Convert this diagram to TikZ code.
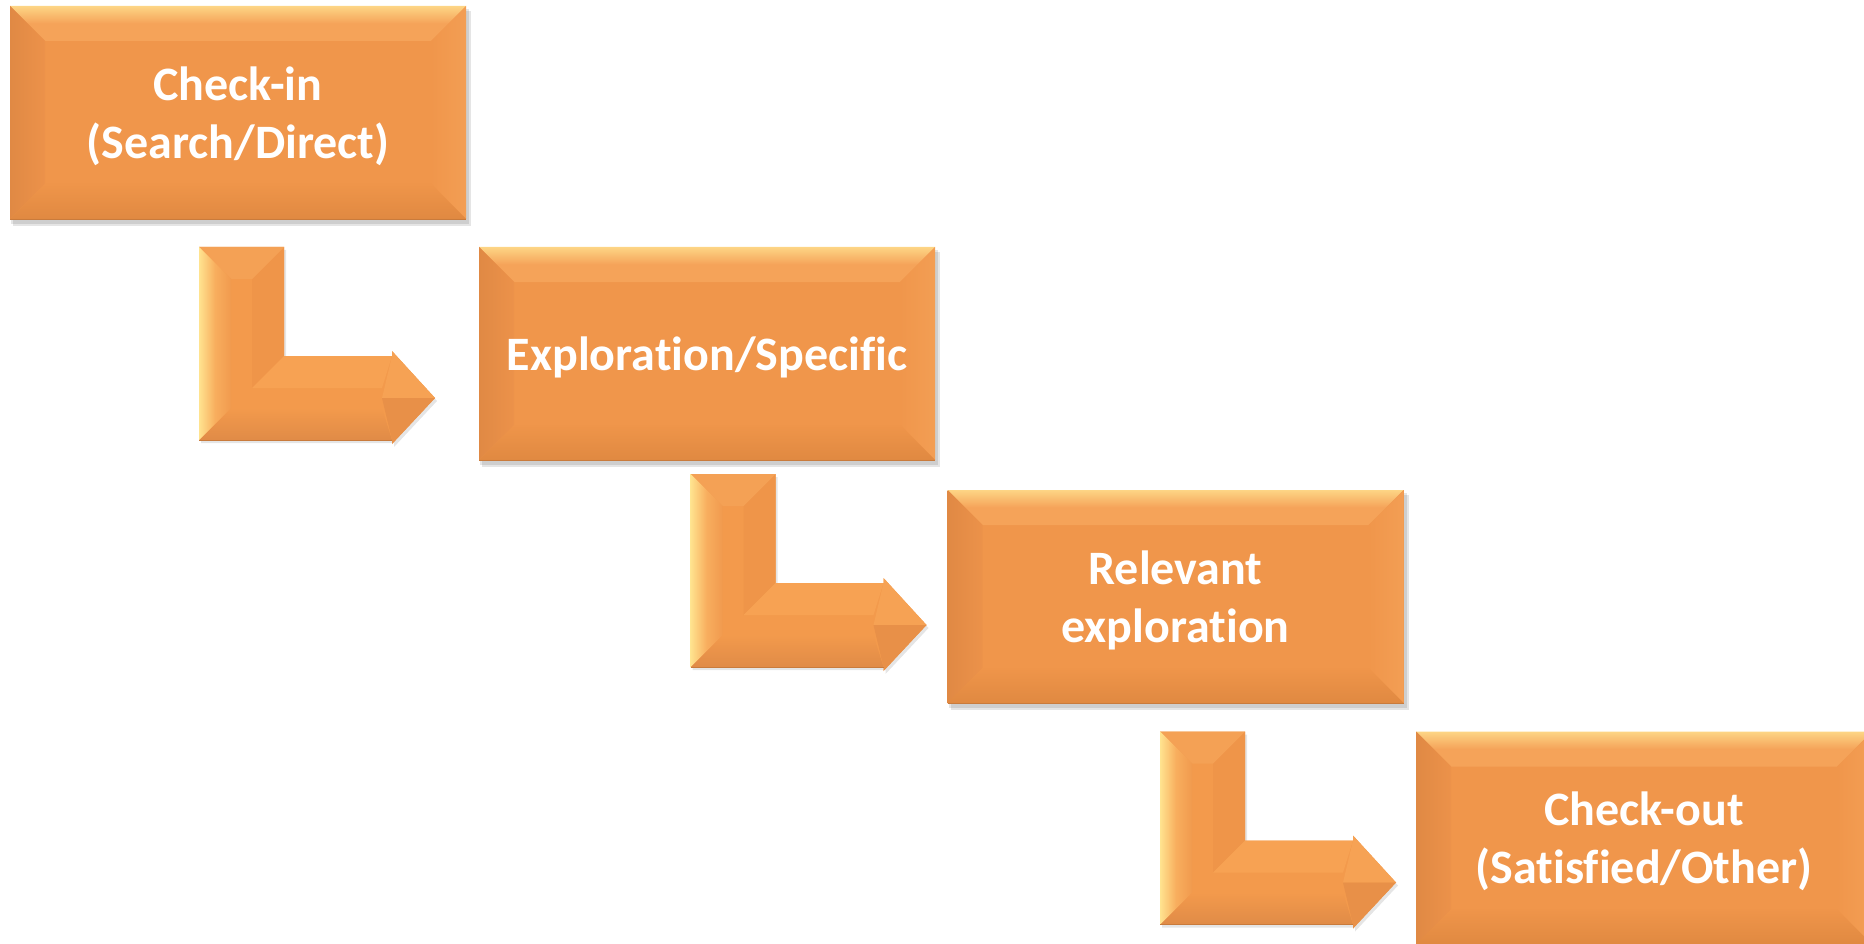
\documentclass[tikz,border=0pt]{standalone}
\usepackage{fontspec}
\setmainfont[Ligatures=NoCommon]{Carlito}
\definecolor{bface}{HTML}{F0964B}
\definecolor{btopA}{HTML}{FDD585}
\definecolor{btopB}{HTML}{F5A359}
\definecolor{bleftA}{HTML}{E08944}
\definecolor{bleftB}{HTML}{EC924A}
\definecolor{bright}{HTML}{F39E54}
\definecolor{bbotA}{HTML}{EF954A}
\definecolor{bbotB}{HTML}{E08941}
\definecolor{aface}{HTML}{F39A4C}
\definecolor{ayel}{HTML}{FFE38F}
\definecolor{amid}{HTML}{F8AE5E}
\definecolor{aleftB}{HTML}{F19A4E}
\definecolor{avtop}{HTML}{F4A155}
\definecolor{avright}{HTML}{EF9549}
\definecolor{astop}{HTML}{F7A253}
\definecolor{asbot}{HTML}{E08B47}
\definecolor{aheadtop}{HTML}{F6A254}
\definecolor{aheadbot}{HTML}{E89048}
\definecolor{edgeline}{HTML}{C97B3C}
\tikzset{
  boxtext/.style={text=white, font=\bfseries\fontsize{48}{58}\selectfont, align=center, inner sep=0pt},
  softshadow/.style={fill=black, opacity=0.10}
}
\newcommand{\bevelbox}[4]{%
  \begin{scope}[shift={(#2,#3)}]
    \fill[softshadow] (1,3) rectangle (459,218);
    \fill[softshadow] (3,5) rectangle (461,220);
    \fill[bface] (0,0) rectangle (456,213);
    \shade[top color=btopA, bottom color=btopB, middle color=btopB] (0,0) -- (456,0) -- (421,35) -- (35,35) -- cycle;
    \shade[left color=bleftA, right color=bleftB] (0,0) -- (35,35) -- (35,178) -- (0,213) -- cycle;
    \shade[left color=bface, right color=bright] (456,0) -- (421,35) -- (421,178) -- (456,213) -- cycle;
    \shade[top color=bbotA, bottom color=bbotB] (0,213) -- (35,178) -- (421,178) -- (456,213) -- cycle;
    \draw[edgeline, line width=0.8pt] (0,213) -- (456,213);
    \node[boxtext] (#1) at (228,110) {#4};
  \end{scope}}
\newcommand{\larrow}[3]{%
  \begin{scope}[shift={(#2,#3)}]
    \coordinate (#1) at (0,0);
    \fill[softshadow] (2,3) -- (87,3) -- (87,112) -- (195,112) -- (195,107) -- (238,154) -- (195,200) -- (195,196) -- (2,196) -- cycle;
    \fill[aface] (0,0) -- (85,0) -- (85,109) -- (193,109) -- (193,104) -- (236,151) -- (193,197) -- (193,193) -- (0,193) -- cycle;
    \fill[avright] (85,0) -- (85,109) -- (53,141) -- (53,32) -- cycle;
    \fill[avtop] (0,0) -- (85,0) -- (53,32) -- (32,32) -- cycle;
    \fill[astop] (85,109) -- (193,109) -- (183,141) -- (53,141) -- cycle;
    \shade[top color=aface, bottom color=asbot] (0,193) -- (32,161) -- (183,161) -- (193,193) -- cycle;
    \shade[left color=ayel, right color=aleftB, middle color=amid] (0,0) -- (32,32) -- (32,161) -- (0,193) -- cycle;
    \fill[aheadtop] (193,104) -- (236,151) -- (183,151) -- (193,109) -- cycle;
    \fill[aheadbot] (183,151) -- (236,151) -- (193,197) -- (193,193) -- cycle;
    \draw[edgeline, line width=0.8pt] (0,193) -- (193,193);
  \end{scope}}
\begin{document}
\begin{tikzpicture}[x=1pt, y=-1pt]
  \useasboundingbox (0,0) rectangle (1864,944);
  \clip (0,0) rectangle (1864,944);
  \bevelbox{checkin}{10}{6}{Check-in\\(Search/Direct)}
  \bevelbox{explore}{479}{247}{Exploration/Specific}
  \bevelbox{relevant}{947.5}{490}{Relevant\\exploration}
  \bevelbox{checkout}{1416}{731.5}{Check-out\\(Satisfied/Other)}
  \larrow{arrA}{199}{247}
  \larrow{arrB}{690.5}{474}
  \larrow{arrC}{1160}{731.5}
\end{tikzpicture}
\end{document}
